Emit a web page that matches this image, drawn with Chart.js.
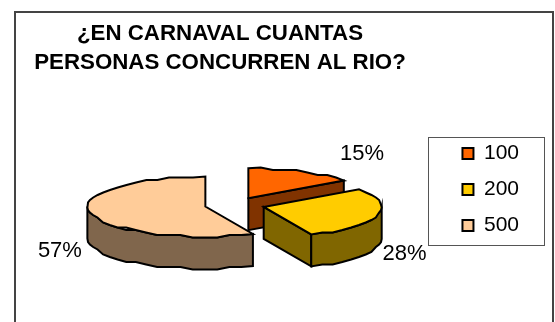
<!DOCTYPE html>
<html><head><meta charset="utf-8">
<style>html,body{margin:0;padding:0;background:#fff}#w{width:555px;height:322px;position:relative}</style>
<script src="https://cdn.jsdelivr.net/npm/chart.js@4"></script>
</head><body><div id="w"><canvas id="c" width="555" height="322"></canvas></div>
<script>
const titleLines = ['¿EN CARNAVAL CUANTAS', 'PERSONAS CONCURREN AL RIO?'];
const categories = ['100', '200', '500'];
const shares = [15, 28.4, 56.6];
const topColors = ['#FF6600', '#FFCC00', '#FFCC99'];
const wallColors = ['#803300', '#806600', '#80664C'];
const drawOrder = [2, 0, 1];
const labelNudges = [[60, -18], [27, 39], [-30, 38]];

const tilt = 0.254, depth = 32, shiftY = -20;
const FONT = '"Liberation Sans", Arial, sans-serif';

const pie3d = {
  id: 'pie3d',
  beforeDraw(chart) {
    const c = chart.ctx;
    c.save();
    c.fillStyle = '#fff'; c.fillRect(0, 0, chart.width, chart.height);
    c.strokeStyle = '#444'; c.lineWidth = 2;
    c.strokeRect(15, 12, 538, 340);
    c.strokeStyle = '#555'; c.lineWidth = 1;
    c.strokeRect(428.5, 137.5, 116, 108);
    c.restore();
  },
  afterLayout(chart) {
    const t = chart.titleBlock;
    t.left = 0; t.right = 440; t.width = 440;
  },
  beforeDatasetsDraw(chart) {
    const c = chart.ctx, arcs = chart.getDatasetMeta(0).data;
    const snap = (v, g) => Math.round(v / g) * g;
    c.save();
    c.lineWidth = 2; c.lineJoin = 'miter'; c.strokeStyle = '#000';
    const project = (el, ang, r, z) => {
      const mid = (el.startAngle + el.endAngle) / 2, o = el.options.offset;
      return [el.x + Math.cos(mid) * o + r * Math.cos(ang),
              el.y + shiftY + tilt * (Math.sin(mid) * o + r * Math.sin(ang)) + z];
    };
    const wavy = (el, a, b, z, out) => {
      const n = Math.max(2, Math.round((b - a) / (Math.PI / 30)));
      for (let i = 0; i <= n; i++) {
        const ang = a + (b - a) * i / n;
        const p = project(el, ang, el.outerRadius, 0);
        const end = i === 0 || i === n;
        out.push([p[0], (end ? p[1] : snap(p[1], 2.5)) + z]);
      }
      return out;
    };
    const poly = (pts, fill) => {
      c.beginPath();
      pts.forEach((p, i) => i ? c.lineTo(p[0], p[1]) : c.moveTo(p[0], p[1]));
      c.closePath(); c.fillStyle = fill; c.fill(); c.stroke();
    };
    drawOrder.forEach(i => {
      const el = arcs[i], a = el.startAngle, b = el.endAngle;
      const face = ang => {
        const o = project(el, 0, 0, 0), e = project(el, ang, el.outerRadius, 0);
        poly([o, e, [e[0], e[1] + depth], [o[0], o[1] + depth]], wallColors[i]);
      };
      if (-Math.cos(a) > 1e-6) face(a);
      if (Math.cos(b) > 1e-6) face(b);
      const wa = Math.max(a, 0), wb = Math.min(b, Math.PI);
      if (wb > wa) {
        const top = wavy(el, wa, wb, 0, []);
        const bot = wavy(el, wa, wb, depth, []).reverse();
        poly(top.concat(bot), wallColors[i]);
      }
      const pts = wavy(el, a, b, 0, []);
      pts.push(project(el, 0, 0, 0));
      poly(pts, topColors[i]);
    });
    c.fillStyle = '#000';
    c.font = '22px ' + FONT; c.textAlign = 'center'; c.textBaseline = 'middle';
    const total = shares.reduce((s, v) => s + v, 0);
    arcs.forEach((el, i) => {
      const mid = (el.startAngle + el.endAngle) / 2;
      const p = project(el, mid, el.outerRadius, 0);
      c.fillText(Math.round(shares[i] / total * 100) + '%', p[0] + labelNudges[i][0], p[1] + labelNudges[i][1]);
    });
    c.restore();
    return false;
  }
};

new Chart(document.getElementById('c'), {
  type: 'pie',
  data: { labels: categories, datasets: [{
    data: shares, backgroundColor: topColors, borderColor: '#000', borderWidth: 2, offset: 30
  }]},
  plugins: [pie3d],
  options: {
    responsive: false, animation: false, radius: 118,
    layout: { padding: { left: 22, right: 26, top: 0, bottom: 0 } },
    events: [],
    plugins: {
      tooltip: { enabled: false },
      title: {
        display: true, text: titleLines, color: '#000',
        font: { family: FONT, size: 22.3, weight: 'bold', lineHeight: 1.31 },
        padding: { top: 19, bottom: 50.5 }
      },
      legend: {
        position: 'right', align: 'start', fullSize: false,
        labels: { boxWidth: 11, boxHeight: 11, padding: 15, color: '#000', font: { family: FONT, size: 21 } }
      }
    }
  }
});
</script></body></html>
